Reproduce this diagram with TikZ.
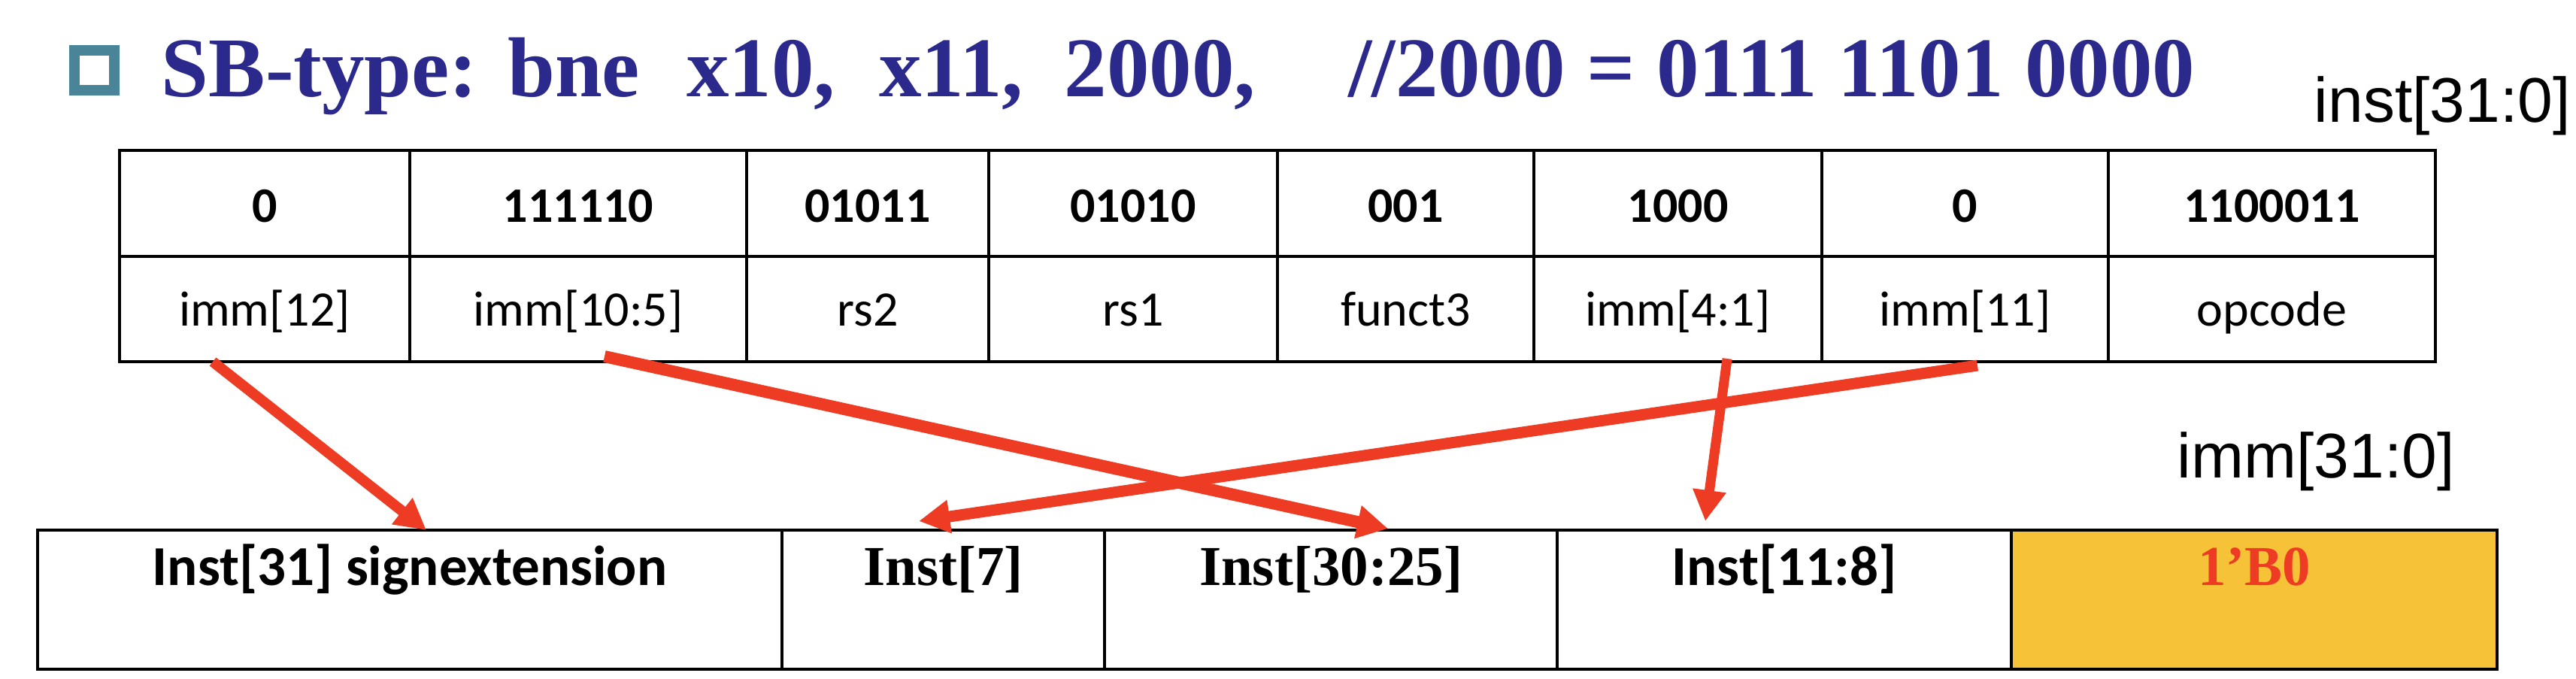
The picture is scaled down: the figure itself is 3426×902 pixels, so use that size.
\documentclass[tikz,border=0pt]{standalone}
\usepackage{fontspec}
\setmainfont{Liberation Serif}
\newfontfamily\calfont{Carlito}
\newfontfamily\arialfont{Liberation Sans}
\usetikzlibrary{arrows.meta}
\definecolor{titleblue}{RGB}{43,42,140}
\definecolor{bulletteal}{RGB}{74,132,153}
\definecolor{arrowred}{RGB}{238,59,35}
\definecolor{cellyellow}{RGB}{246,194,56}
\tikzset{
  cell/.style={draw, line width=0.8pt, inner sep=0pt, outer sep=0pt, rectangle},
  toprow/.style={cell, minimum height=35.25pt, text height=12.25pt, text depth=0pt,
    font=\calfont\bfseries\fontsize{16.5pt}{18pt}\selectfont},
  fieldrow/.style={cell, minimum height=35pt, text height=11pt, text depth=0pt,
    font=\calfont\fontsize{16.5pt}{18pt}\selectfont},
  botrow/.style={cell, minimum height=46.25pt, text height=0pt, text depth=9.75pt},
  calbold/.style={font=\calfont\bfseries\fontsize{18.75pt}{20pt}\selectfont},
  timesbold/.style={font=\bfseries\fontsize{18.75pt}{20pt}\selectfont},
  outerbox/.style={draw, line width=1.2pt},
  sidelabel/.style={anchor=base west, inner sep=0pt, font=\arialfont\fontsize{21pt}{24pt}\selectfont},
  redarrow/.style={draw=arrowred, -{Triangle[length=10.25pt, width=10.5pt]}}
}
\begin{document}
\begin{tikzpicture}[x=0.25pt, y=-0.25pt]
\useasboundingbox (0,0) rectangle (3426,902);
\fill[white] (0,0) rectangle (3426,902);

% title
\node[draw=bulletteal, line width=3.5pt, minimum size=13.25pt, inner sep=0pt] (bullet) at (125.5,93.5) {};
\node[anchor=base west, inner sep=0pt, text=titleblue,
      font=\bfseries\fontsize{28.25pt}{32pt}\selectfont] (title) at (214,128)
  {SB-type:\hspace{10pt}bne\hspace{15.5pt}x10,\hspace{14.6pt}x11,\hspace{13.8pt}2000,\hspace{30.8pt}//2000 = 0111 1101 0000};

\node[sidelabel] (instlbl) at (3077,162) {inst[31:0]};
\node[sidelabel] (immlbl) at (2895,635) {imm[31:0]};

% instruction table
\node[toprow, minimum width=96.5pt]  (b1) at (352,270.5)    {0};
\node[toprow, minimum width=112pt]   (b2) at (769,270.5)    {111110};
\node[toprow, minimum width=80.5pt]  (b3) at (1154,270.5)   {01011};
\node[toprow, minimum width=96pt]    (b4) at (1507,270.5)   {01010};
\node[toprow, minimum width=85.25pt] (b5) at (1869.5,270.5) {001};
\node[toprow, minimum width=95.75pt] (b6) at (2231.5,270.5) {1000};
\node[toprow, minimum width=95.25pt] (b7) at (2613.5,270.5) {0};
\node[toprow, minimum width=108.75pt](b8) at (3021.5,270.5) {1100011};

\node[fieldrow, minimum width=96.5pt]  (f1) at (352,411)    {imm[12]};
\node[fieldrow, minimum width=112pt]   (f2) at (769,411)    {imm[10:5]};
\node[fieldrow, minimum width=80.5pt]  (f3) at (1154,411)   {rs2};
\node[fieldrow, minimum width=96pt]    (f4) at (1507,411)   {rs1};
\node[fieldrow, minimum width=85.25pt] (f5) at (1869.5,411) {funct3};
\node[fieldrow, minimum width=95.75pt] (f6) at (2231.5,411) {imm[4:1]};
\node[fieldrow, minimum width=95.25pt] (f7) at (2613.5,411) {imm[11]};
\node[fieldrow, minimum width=108.75pt](f8) at (3021.5,411) {opcode};
\draw[outerbox] (159,200) rectangle (3239,481);

% immediate table
\node[botrow, calbold, minimum width=247.5pt]  (s1) at (545,797.5)    {Inst[31] signextension};
\node[botrow, timesbold, minimum width=107.25pt] (s2) at (1254.5,797.5) {Inst[7]};
\node[botrow, timesbold, minimum width=150.5pt] (s3) at (1770,797.5)  {Inst[30:25]};
\node[botrow, calbold, minimum width=151pt]    (s4) at (2373,797.5)   {Inst[11:8]};
\node[botrow, timesbold, minimum width=161.5pt, fill=cellyellow, text=arrowred] (s5) at (2998,797.5) {1’B0};
\draw[outerbox] (50,705) rectangle (3321,890);

% arrows
\draw[redarrow, line width=3.5pt]  ([xshift=-17.25pt]f1.south) -- ([xshift=5.5pt]s1.north);
\draw[redarrow, line width=4pt]    ([xshift=8.75pt,yshift=1.75pt]f2.south) -- ([xshift=19pt,yshift=0.5pt]s3.north);
\draw[redarrow, line width=3.75pt] ([xshift=4.1pt,yshift=-1.25pt]f7.south) -- ([xshift=-8.1pt,yshift=3pt]s2.north);
\draw[redarrow, line width=3.25pt] ([xshift=16.4pt,yshift=1pt]f6.south) -- ([xshift=-26.25pt,yshift=3pt]s4.north);
\end{tikzpicture}
\end{document}
